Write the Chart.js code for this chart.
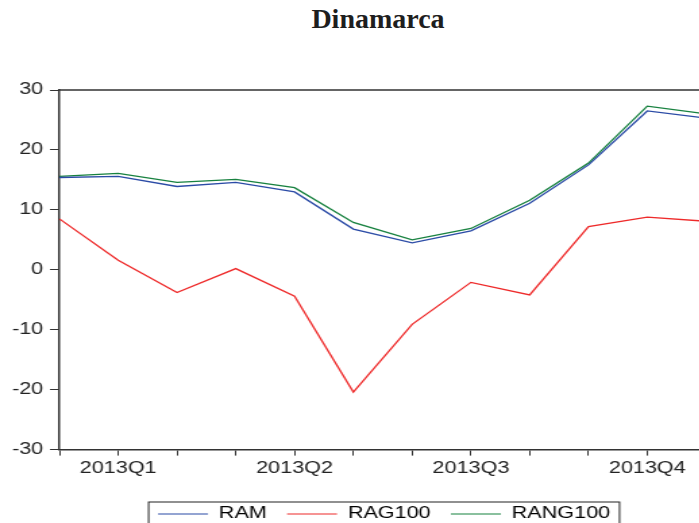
<!DOCTYPE html>
<html lang="es">
<head>
<meta charset="UTF-8">
<title>Dinamarca</title>
<script src="https://cdn.jsdelivr.net/npm/chart.js@4.4.0/dist/chart.umd.min.js"></script>
<style>
    html, body { margin: 0; padding: 0; background: #fff; overflow: hidden; }
    body { width: 699px; height: 523px; position: relative; }
    #title {
        position: absolute; left: 0; top: 5px; width: 756px;
        text-align: center; font: bold 28px "Liberation Serif", "Times New Roman", serif;
        line-height: 28px; color: #1e1e1e;
    }
    /* the source picture is stretched sideways, so the chart canvas is too */
    #chart { position: absolute; left: 0; top: 0; transform: scaleX(1.35); transform-origin: 0 0; }
</style>
</head>
<body>
<div id="title">Dinamarca</div>
<canvas id="chart" width="569" height="540"></canvas>
<script>
// monthly observations, 2013
const months = ['2013M01', '2013M02', '2013M03', '2013M04', '2013M05', '2013M06',
    '2013M07', '2013M08', '2013M09', '2013M10', '2013M11', '2013M12'];
// only the middle month of each quarter carries a label
const tickLabels = ['', '2013Q1', '', '', '2013Q2', '', '', '2013Q3', '', '', '2013Q4', ''];

const ram     = [15.4, 15.6, 13.9, 14.6, 13.0, 6.8, 4.5, 6.5, 11.1, 17.5, 26.5, 25.3];
const rag100  = [8.5, 1.6, -3.8, 0.2, -4.4, -20.4, -9.1, -2.1, -4.2, 7.2, 8.8, 8.1];
const rang100 = [15.6, 16.1, 14.6, 15.1, 13.7, 7.9, 5.0, 6.9, 11.6, 17.8, 27.3, 26.0];

const yMin = -30, yMax = 30, yStep = 10;

const axisColor = '#333';
const font = { family: '"Liberation Sans", Arial, sans-serif', size: 16 };

// frame line along top and right of the plot area
const framePlugin = {
    id: 'frame',
    afterDraw(chart) {
        const { ctx, chartArea: a } = chart;
        ctx.save();
        ctx.strokeStyle = axisColor;
        ctx.lineWidth = 1.5;
        ctx.beginPath();
        ctx.moveTo(a.left, a.top);
        ctx.lineTo(a.right, a.top);
        ctx.lineTo(a.right, a.bottom);
        ctx.stroke();
        ctx.restore();
    }
};

// box round the legend entries
const legendBoxPlugin = {
    id: 'legendBox',
    afterDraw(chart) {
        const boxes = chart.legend.legendHitBoxes;
        if (!boxes || !boxes.length) return;
        const left = Math.min(...boxes.map(b => b.left)) - 7;
        const right = Math.max(...boxes.map(b => b.left + b.width)) + 7;
        const mid = boxes[0].top + boxes[0].height / 2;
        const ctx = chart.ctx;
        ctx.save();
        ctx.strokeStyle = '#222';
        ctx.lineWidth = 1;
        ctx.strokeRect(left, mid - 12, right - left, 40);
        ctx.restore();
    }
};

new Chart(document.getElementById('chart'), {
    type: 'line',
    data: {
        labels: months,
        datasets: [
            { label: 'RAM', data: ram, borderColor: '#2b4ba6', backgroundColor: '#2b4ba6' },
            { label: 'RAG100', data: rag100, borderColor: '#ee2a2a', backgroundColor: '#ee2a2a' },
            { label: 'RANG100', data: rang100, borderColor: '#17813f', backgroundColor: '#17813f' }
        ]
    },
    options: {
        responsive: false,
        animation: false,
        devicePixelRatio: 1,
        layout: { padding: { top: 90, left: 0, right: 0, bottom: 8 } },
        elements: {
            line: { borderWidth: 1.3, tension: 0 },
            point: { radius: 0 }
        },
        scales: {
            x: {
                type: 'category',
                offset: false,
                afterFit(scale) { scale.height = 41.4; },
                grid: { drawOnChartArea: false, drawTicks: true, tickLength: 6, color: axisColor },
                border: { display: true, color: axisColor, width: 1.5 },
                ticks: {
                    autoSkip: false, maxRotation: 0, padding: 3, color: '#222', font: font,
                    callback: (v, i) => tickLabels[i]
                }
            },
            y: {
                min: yMin, max: yMax,
                afterFit(scale) { scale.width = 44; },
                grid: { drawOnChartArea: false, drawTicks: true, tickLength: 7, color: axisColor },
                border: { display: true, color: axisColor, width: 1.5 },
                ticks: { stepSize: yStep, padding: 5, color: '#222', font: font }
            },
            // empty space on the right, keeps legend centred like the source
            y2: {
                position: 'right',
                afterFit(scale) { scale.width = 46; },
                grid: { display: false },
                border: { display: false },
                ticks: { display: false }
            }
        },
        plugins: {
            title: { display: false },
            tooltip: { enabled: false },
            legend: {
                position: 'bottom',
                labels: {
                    boxWidth: 37, boxHeight: 1, padding: 15, color: '#222', font: font,
                    generateLabels(chart) {
                        return chart.data.datasets.map((ds, i) => ({
                            text: ds.label, fillStyle: ds.borderColor, strokeStyle: ds.borderColor,
                            lineWidth: 0, hidden: false, datasetIndex: i
                        }));
                    }
                }
            }
        }
    },
    plugins: [framePlugin, legendBoxPlugin]
});
</script>
</body>
</html>
